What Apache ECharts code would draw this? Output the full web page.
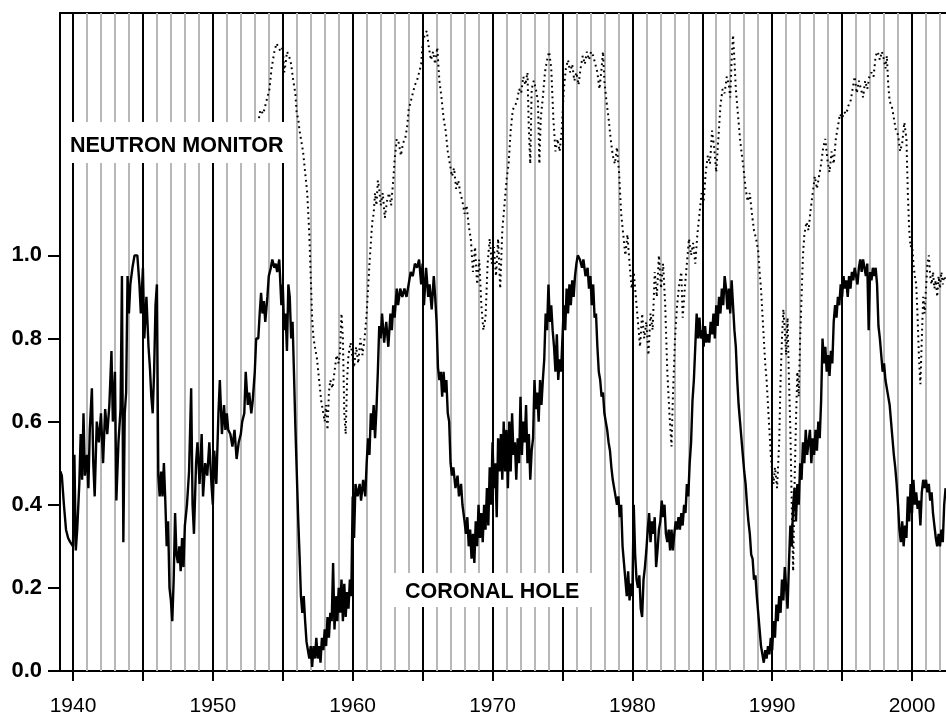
<!DOCTYPE html>
<html>
<head>
<meta charset="utf-8">
<script src="https://cdn.jsdelivr.net/npm/echarts@6/dist/echarts.min.js"></script>
<style>
html,body{margin:0;padding:0;background:#fff;}
#chart{width:946px;height:717px;}
</style>
</head>
<body>
<div id="chart"></div>
<script>
// Coronal hole index [year, value]
const coronalHole = [
[1939.1,0.48],[1939.2,0.47],[1939.35,0.40],[1939.5,0.34],[1939.65,0.32],[1939.8,0.31],[1940.0,0.30],[1940.1,0.52],[1940.2,0.29],[1940.3,0.34],[1940.45,0.45],[1940.55,0.57],[1940.65,0.46],[1940.75,0.62],[1940.85,0.47],
[1941.0,0.52],[1941.1,0.44],[1941.2,0.58],[1941.35,0.68],[1941.45,0.50],[1941.55,0.42],[1941.7,0.60],[1941.85,0.55],
[1942.0,0.62],[1942.15,0.50],[1942.3,0.63],[1942.45,0.57],[1942.6,0.64],[1942.75,0.77],[1942.85,0.60],
[1943.0,0.72],[1943.1,0.41],[1943.25,0.55],[1943.4,0.63],[1943.5,0.95],[1943.6,0.31],[1943.7,0.62],[1943.8,0.67],[1943.9,0.95],
[1944.0,0.86],[1944.1,0.93],[1944.25,0.97],[1944.4,1.0],[1944.6,1.0],[1944.75,0.93],[1944.85,0.86],
[1945.0,0.97],[1945.1,0.80],[1945.25,0.90],[1945.4,0.78],[1945.5,0.73],[1945.6,0.66],[1945.7,0.62],[1945.8,0.72],[1945.9,0.88],
[1946.0,0.93],[1946.1,0.47],[1946.2,0.42],[1946.3,0.48],[1946.4,0.42],[1946.5,0.50],[1946.6,0.41],[1946.7,0.30],[1946.8,0.36],[1946.9,0.20],
[1947.0,0.17],[1947.1,0.12],[1947.2,0.22],[1947.3,0.38],[1947.4,0.28],[1947.5,0.26],[1947.6,0.30],[1947.7,0.24],[1947.8,0.32],[1947.9,0.25],
[1948.0,0.35],[1948.15,0.40],[1948.3,0.48],[1948.45,0.68],[1948.55,0.40],[1948.65,0.33],[1948.8,0.50],[1948.9,0.55],
[1949.05,0.45],[1949.2,0.57],[1949.3,0.42],[1949.45,0.50],[1949.6,0.47],[1949.75,0.55],[1949.9,0.45],
[1950.0,0.40],[1950.1,0.53],[1950.25,0.45],[1950.4,0.62],[1950.5,0.70],[1950.65,0.57],[1950.8,0.64],[1950.9,0.58],
[1951.0,0.62],[1951.1,0.58],[1951.25,0.57],[1951.4,0.54],[1951.55,0.58],[1951.7,0.51],[1951.85,0.55],
[1952.0,0.57],[1952.1,0.60],[1952.25,0.62],[1952.35,0.72],[1952.5,0.64],[1952.6,0.67],[1952.75,0.62],[1952.85,0.65],
[1953.0,0.72],[1953.1,0.80],[1953.25,0.80],[1953.35,0.86],[1953.45,0.91],[1953.55,0.86],[1953.65,0.89],[1953.75,0.84],[1953.9,0.90],
[1954.0,0.95],[1954.15,0.97],[1954.25,0.99],[1954.4,0.97],[1954.5,0.98],[1954.6,0.96],[1954.75,0.99],[1954.9,0.88],
[1955.0,0.93],[1955.1,0.82],[1955.2,0.86],[1955.3,0.77],[1955.4,0.93],[1955.5,0.90],[1955.6,0.80],[1955.7,0.84],[1955.8,0.72],[1955.9,0.59],
[1956.0,0.48],[1956.1,0.37],[1956.2,0.28],[1956.3,0.18],[1956.4,0.14],[1956.5,0.18],[1956.6,0.12],[1956.7,0.07],[1956.8,0.05],[1956.9,0.03],
[1957.0,0.06],[1957.1,0.01],[1957.2,0.06],[1957.3,0.03],[1957.4,0.08],[1957.5,0.03],[1957.6,0.06],[1957.7,0.02],[1957.8,0.08],[1957.9,0.05],
[1958.0,0.10],[1958.1,0.06],[1958.2,0.13],[1958.3,0.08],[1958.4,0.14],[1958.5,0.12],[1958.6,0.26],[1958.7,0.10],[1958.8,0.18],[1958.9,0.12],
[1959.0,0.20],[1959.1,0.14],[1959.2,0.22],[1959.3,0.12],[1959.4,0.21],[1959.5,0.13],[1959.6,0.19],[1959.7,0.15],[1959.8,0.22],[1959.9,0.18],
[1960.0,0.42],[1960.1,0.32],[1960.2,0.45],[1960.35,0.42],[1960.5,0.45],[1960.6,0.41],[1960.75,0.46],[1960.9,0.42],
[1961.0,0.50],[1961.1,0.56],[1961.2,0.52],[1961.3,0.62],[1961.4,0.58],[1961.5,0.64],[1961.6,0.56],[1961.7,0.63],[1961.8,0.72],[1961.9,0.83],
[1962.0,0.80],[1962.1,0.86],[1962.25,0.79],[1962.4,0.84],[1962.55,0.78],[1962.7,0.86],[1962.8,0.82],[1962.9,0.88],
[1963.0,0.85],[1963.15,0.92],[1963.25,0.88],[1963.4,0.92],[1963.55,0.90],[1963.7,0.92],[1963.85,0.90],
[1964.0,0.93],[1964.15,0.96],[1964.3,0.95],[1964.45,0.98],[1964.6,0.97],[1964.75,0.99],[1964.9,0.93],
[1965.0,0.98],[1965.1,0.88],[1965.25,0.97],[1965.4,0.90],[1965.5,0.93],[1965.65,0.87],[1965.8,0.95],[1965.9,0.90],
[1966.0,0.84],[1966.1,0.73],[1966.2,0.70],[1966.3,0.72],[1966.4,0.66],[1966.5,0.72],[1966.6,0.67],[1966.7,0.70],[1966.8,0.62],[1966.9,0.60],
[1967.0,0.50],[1967.1,0.47],[1967.2,0.49],[1967.35,0.44],[1967.5,0.47],[1967.6,0.42],[1967.75,0.45],[1967.85,0.40],
[1968.0,0.36],[1968.1,0.33],[1968.2,0.37],[1968.3,0.30],[1968.4,0.34],[1968.5,0.27],[1968.6,0.33],[1968.7,0.26],[1968.8,0.36],[1968.9,0.30],
[1969.0,0.40],[1969.1,0.32],[1969.2,0.38],[1969.3,0.31],[1969.4,0.40],[1969.5,0.34],[1969.6,0.44],[1969.7,0.35],[1969.8,0.49],[1969.9,0.40],
[1970.0,0.55],[1970.1,0.44],[1970.2,0.50],[1970.3,0.37],[1970.4,0.56],[1970.5,0.48],[1970.6,0.57],[1970.7,0.46],[1970.8,0.60],[1970.9,0.48],
[1971.0,0.58],[1971.1,0.44],[1971.2,0.60],[1971.3,0.48],[1971.4,0.62],[1971.5,0.52],[1971.6,0.55],[1971.7,0.46],[1971.8,0.56],[1971.9,0.50],
[1972.0,0.66],[1972.1,0.52],[1972.2,0.60],[1972.3,0.55],[1972.4,0.64],[1972.5,0.50],[1972.6,0.57],[1972.7,0.46],[1972.8,0.53],[1972.9,0.56],
[1973.0,0.70],[1973.1,0.63],[1973.2,0.67],[1973.3,0.60],[1973.4,0.70],[1973.5,0.64],[1973.6,0.70],[1973.7,0.75],[1973.8,0.86],[1973.9,0.82],
[1974.0,0.93],[1974.1,0.84],[1974.2,0.88],[1974.3,0.82],[1974.4,0.78],[1974.5,0.72],[1974.6,0.81],[1974.7,0.70],[1974.8,0.75],[1974.9,0.72],
[1975.0,0.80],[1975.1,0.88],[1975.2,0.82],[1975.3,0.92],[1975.4,0.86],[1975.5,0.93],[1975.6,0.88],[1975.7,0.94],[1975.8,0.90],[1975.9,0.95],
[1976.0,0.98],[1976.1,1.0],[1976.25,0.99],[1976.4,0.97],[1976.5,0.99],[1976.65,0.95],[1976.8,0.97],[1976.9,0.92],
[1977.0,0.95],[1977.1,0.88],[1977.2,0.93],[1977.3,0.85],[1977.4,0.86],[1977.5,0.78],[1977.6,0.72],[1977.7,0.70],[1977.8,0.66],[1977.9,0.67],
[1978.0,0.62],[1978.1,0.60],[1978.2,0.58],[1978.3,0.55],[1978.4,0.53],[1978.5,0.49],[1978.6,0.46],[1978.7,0.44],[1978.8,0.42],[1978.9,0.40],
[1979.0,0.42],[1979.1,0.37],[1979.2,0.40],[1979.3,0.30],[1979.4,0.26],[1979.5,0.22],[1979.6,0.18],[1979.7,0.24],[1979.8,0.17],[1979.9,0.21],
[1980.0,0.18],[1980.1,0.40],[1980.2,0.28],[1980.3,0.22],[1980.4,0.20],[1980.5,0.23],[1980.6,0.15],[1980.7,0.13],[1980.8,0.22],[1980.9,0.25],
[1981.0,0.29],[1981.1,0.34],[1981.2,0.38],[1981.3,0.31],[1981.4,0.36],[1981.5,0.33],[1981.6,0.37],[1981.7,0.25],[1981.8,0.29],[1981.9,0.34],
[1982.0,0.36],[1982.1,0.41],[1982.2,0.37],[1982.3,0.40],[1982.4,0.33],[1982.5,0.31],[1982.6,0.34],[1982.7,0.29],[1982.8,0.34],[1982.9,0.29],
[1983.0,0.33],[1983.1,0.36],[1983.2,0.34],[1983.3,0.37],[1983.4,0.34],[1983.5,0.38],[1983.6,0.35],[1983.7,0.40],[1983.8,0.38],[1983.9,0.45],
[1984.0,0.42],[1984.1,0.50],[1984.2,0.55],[1984.3,0.65],[1984.4,0.70],[1984.5,0.78],[1984.6,0.86],[1984.7,0.80],[1984.8,0.85],[1984.9,0.80],
[1985.0,0.82],[1985.1,0.78],[1985.2,0.83],[1985.3,0.79],[1985.4,0.81],[1985.5,0.79],[1985.6,0.84],[1985.7,0.81],[1985.8,0.86],[1985.9,0.80],
[1986.0,0.88],[1986.1,0.83],[1986.2,0.90],[1986.3,0.86],[1986.4,0.92],[1986.5,0.88],[1986.6,0.95],[1986.7,0.92],[1986.8,0.87],[1986.9,0.92],
[1987.0,0.86],[1987.1,0.94],[1987.2,0.88],[1987.3,0.82],[1987.4,0.78],[1987.5,0.70],[1987.6,0.64],[1987.7,0.60],[1987.8,0.56],[1987.9,0.52],
[1988.0,0.48],[1988.1,0.45],[1988.2,0.40],[1988.3,0.36],[1988.4,0.33],[1988.5,0.28],[1988.6,0.27],[1988.7,0.22],[1988.8,0.23],[1988.9,0.18],
[1989.0,0.14],[1989.1,0.10],[1989.2,0.06],[1989.3,0.04],[1989.4,0.02],[1989.5,0.05],[1989.6,0.03],[1989.7,0.06],[1989.8,0.04],[1989.9,0.08],
[1990.0,0.05],[1990.1,0.12],[1990.2,0.08],[1990.3,0.16],[1990.4,0.12],[1990.5,0.18],[1990.6,0.14],[1990.7,0.22],[1990.8,0.17],[1990.9,0.25],
[1991.0,0.20],[1991.1,0.15],[1991.2,0.26],[1991.3,0.35],[1991.4,0.30],[1991.5,0.40],[1991.6,0.44],[1991.7,0.36],[1991.8,0.45],[1991.9,0.40],
[1992.0,0.50],[1992.1,0.46],[1992.2,0.55],[1992.3,0.50],[1992.4,0.58],[1992.5,0.52],[1992.6,0.52],[1992.7,0.58],[1992.8,0.50],[1992.9,0.56],
[1993.0,0.52],[1993.1,0.58],[1993.2,0.53],[1993.3,0.60],[1993.4,0.56],[1993.5,0.65],[1993.6,0.80],[1993.7,0.74],[1993.8,0.78],[1993.9,0.72],
[1994.0,0.76],[1994.1,0.71],[1994.2,0.77],[1994.3,0.74],[1994.4,0.84],[1994.5,0.88],[1994.6,0.85],[1994.7,0.90],[1994.8,0.88],[1994.9,0.93],
[1995.0,0.90],[1995.1,0.95],[1995.2,0.92],[1995.3,0.94],[1995.4,0.90],[1995.5,0.95],[1995.6,0.92],[1995.7,0.96],[1995.8,0.94],[1995.9,0.97],
[1996.0,0.95],[1996.1,0.93],[1996.2,0.97],[1996.3,0.99],[1996.4,0.96],[1996.5,0.99],[1996.6,0.97],[1996.7,0.95],[1996.8,0.98],[1996.9,0.82],
[1997.0,0.96],[1997.1,0.94],[1997.2,0.97],[1997.3,0.95],[1997.4,0.97],[1997.5,0.93],[1997.6,0.83],[1997.7,0.80],[1997.8,0.76],[1997.9,0.72],
[1998.0,0.74],[1998.1,0.70],[1998.2,0.68],[1998.3,0.66],[1998.4,0.64],[1998.5,0.60],[1998.6,0.56],[1998.7,0.52],[1998.8,0.49],[1998.9,0.45],
[1999.0,0.40],[1999.1,0.34],[1999.2,0.31],[1999.3,0.36],[1999.4,0.30],[1999.5,0.35],[1999.6,0.32],[1999.7,0.42],[1999.8,0.36],[1999.9,0.45],
[2000.0,0.38],[2000.1,0.46],[2000.2,0.40],[2000.3,0.43],[2000.4,0.39],[2000.5,0.41],[2000.6,0.35],[2000.7,0.43],[2000.8,0.46],[2000.9,0.44],
[2001.0,0.46],[2001.1,0.43],[2001.2,0.45],[2001.3,0.41],[2001.4,0.43],[2001.5,0.38],[2001.6,0.35],[2001.7,0.32],[2001.8,0.30],[2001.9,0.33],
[2002.0,0.30],[2002.1,0.34],[2002.2,0.31],[2002.3,0.40],[2002.4,0.44]
];

// Neutron monitor (normalised, plotted with offset) [year, value]
const neutronMonitor = [
[1953.3,1.33],[1953.4,1.35],[1953.6,1.34],[1953.75,1.36],[1953.9,1.38],[1954.05,1.40],[1954.2,1.45],[1954.3,1.47],[1954.4,1.49],[1954.55,1.51],[1954.7,1.50],[1954.85,1.49],
[1955.0,1.50],[1955.1,1.44],[1955.2,1.46],[1955.3,1.49],[1955.45,1.48],[1955.6,1.46],[1955.75,1.42],[1955.9,1.39],
[1956.0,1.34],[1956.1,1.33],[1956.2,1.30],[1956.3,1.28],[1956.45,1.25],[1956.6,1.20],[1956.75,1.15],[1956.9,1.05],
[1957.0,0.95],[1957.1,0.85],[1957.2,0.80],[1957.3,0.78],[1957.45,0.75],[1957.6,0.70],[1957.75,0.65],[1957.9,0.62],
[1958.0,0.60],[1958.1,0.64],[1958.2,0.58],[1958.3,0.67],[1958.4,0.70],[1958.55,0.68],[1958.7,0.72],[1958.85,0.76],
[1959.0,0.74],[1959.1,0.77],[1959.2,0.86],[1959.3,0.80],[1959.4,0.62],[1959.5,0.57],[1959.6,0.70],[1959.7,0.76],[1959.85,0.79],
[1960.0,0.75],[1960.1,0.73],[1960.25,0.78],[1960.4,0.74],[1960.55,0.80],[1960.7,0.76],[1960.85,0.80],
[1961.0,0.86],[1961.1,0.92],[1961.2,0.98],[1961.3,1.03],[1961.4,1.08],[1961.5,1.10],[1961.6,1.15],[1961.7,1.12],[1961.8,1.18],[1961.9,1.16],
[1962.0,1.12],[1962.15,1.15],[1962.3,1.09],[1962.45,1.13],[1962.6,1.15],[1962.75,1.12],[1962.9,1.18],
[1963.0,1.23],[1963.15,1.28],[1963.3,1.27],[1963.45,1.24],[1963.6,1.27],[1963.75,1.28],[1963.9,1.31],
[1964.0,1.35],[1964.15,1.37],[1964.3,1.39],[1964.45,1.41],[1964.6,1.42],[1964.75,1.44],[1964.9,1.46],
[1965.0,1.51],[1965.15,1.53],[1965.3,1.54],[1965.45,1.50],[1965.6,1.47],[1965.75,1.49],[1965.9,1.46],
[1966.05,1.50],[1966.2,1.42],[1966.35,1.38],[1966.5,1.33],[1966.65,1.30],[1966.8,1.25],[1966.95,1.22],
[1967.1,1.19],[1967.25,1.21],[1967.4,1.16],[1967.55,1.18],[1967.7,1.15],[1967.85,1.13],
[1968.0,1.10],[1968.15,1.12],[1968.3,1.07],[1968.45,1.04],[1968.6,0.96],[1968.75,1.02],[1968.9,0.93],
[1969.05,0.99],[1969.2,0.88],[1969.35,0.82],[1969.5,0.85],[1969.65,0.98],[1969.8,1.04],[1969.95,0.98],
[1970.1,1.02],[1970.25,0.95],[1970.4,1.04],[1970.55,0.92],[1970.7,1.06],[1970.85,1.12],
[1971.0,1.18],[1971.15,1.22],[1971.3,1.30],[1971.45,1.35],[1971.6,1.36],[1971.75,1.37],[1971.9,1.40],
[1972.05,1.39],[1972.2,1.43],[1972.35,1.41],[1972.5,1.44],[1972.6,1.30],[1972.7,1.22],[1972.8,1.40],[1972.95,1.42],
[1973.1,1.40],[1973.25,1.37],[1973.35,1.22],[1973.45,1.33],[1973.6,1.38],[1973.75,1.44],[1973.9,1.47],
[1974.05,1.49],[1974.2,1.45],[1974.35,1.33],[1974.5,1.25],[1974.65,1.28],[1974.8,1.25],[1974.95,1.30],
[1975.1,1.40],[1975.25,1.45],[1975.4,1.47],[1975.55,1.44],[1975.7,1.46],[1975.85,1.42],
[1976.0,1.44],[1976.15,1.41],[1976.3,1.45],[1976.45,1.48],[1976.6,1.46],[1976.75,1.49],[1976.9,1.47],
[1977.05,1.49],[1977.2,1.48],[1977.35,1.46],[1977.5,1.44],[1977.65,1.40],[1977.8,1.45],[1977.9,1.49],
[1978.0,1.42],[1978.15,1.37],[1978.3,1.33],[1978.45,1.28],[1978.6,1.24],[1978.75,1.22],[1978.9,1.26],
[1979.05,1.20],[1979.2,1.10],[1979.35,1.05],[1979.5,1.00],[1979.65,1.05],[1979.8,0.98],[1979.95,0.92],
[1980.1,0.96],[1980.25,0.90],[1980.4,0.84],[1980.55,0.78],[1980.7,0.86],[1980.85,0.80],
[1981.0,0.84],[1981.15,0.76],[1981.3,0.86],[1981.45,0.82],[1981.6,0.96],[1981.75,0.90],[1981.9,1.00],
[1982.05,0.92],[1982.2,0.98],[1982.35,0.88],[1982.5,0.72],[1982.65,0.62],[1982.8,0.54],[1982.9,0.66],
[1983.05,0.80],[1983.2,0.88],[1983.35,0.93],[1983.5,0.96],[1983.6,0.85],[1983.75,0.92],[1983.9,0.98],
[1984.05,1.04],[1984.2,1.00],[1984.35,1.03],[1984.5,0.98],[1984.65,1.05],[1984.8,1.10],[1984.95,1.15],
[1985.1,1.13],[1985.25,1.20],[1985.4,1.24],[1985.55,1.22],[1985.7,1.30],[1985.85,1.26],
[1986.0,1.20],[1986.15,1.28],[1986.3,1.36],[1986.45,1.40],[1986.6,1.39],[1986.75,1.43],[1986.9,1.41],
[1987.0,1.38],[1987.1,1.47],[1987.2,1.53],[1987.3,1.47],[1987.4,1.40],[1987.5,1.36],[1987.6,1.32],[1987.7,1.28],[1987.8,1.25],[1987.95,1.21],
[1988.1,1.16],[1988.25,1.13],[1988.4,1.15],[1988.55,1.10],[1988.7,1.06],[1988.85,1.04],
[1989.0,1.01],[1989.1,0.96],[1989.2,0.92],[1989.3,0.86],[1989.4,0.80],[1989.5,0.74],[1989.6,0.70],[1989.7,0.64],[1989.8,0.58],[1989.9,0.52],
[1990.0,0.48],[1990.1,0.45],[1990.2,0.49],[1990.35,0.44],[1990.5,0.55],[1990.6,0.70],[1990.7,0.80],[1990.8,0.87],[1990.9,0.82],
[1991.0,0.76],[1991.1,0.85],[1991.2,0.70],[1991.3,0.58],[1991.4,0.40],[1991.5,0.24],[1991.6,0.45],[1991.7,0.60],[1991.8,0.72],[1991.9,0.66],
[1992.0,0.80],[1992.1,0.90],[1992.2,1.00],[1992.3,1.05],[1992.45,1.08],[1992.6,1.06],[1992.75,1.11],[1992.9,1.15],
[1993.05,1.19],[1993.2,1.16],[1993.35,1.19],[1993.5,1.22],[1993.65,1.26],[1993.8,1.28],[1993.95,1.23],
[1994.1,1.20],[1994.25,1.25],[1994.4,1.22],[1994.55,1.28],[1994.7,1.31],[1994.85,1.34],
[1995.0,1.33],[1995.15,1.345],[1995.3,1.34],[1995.45,1.36],[1995.6,1.37],[1995.75,1.40],[1995.9,1.43],
[1996.05,1.39],[1996.2,1.42],[1996.35,1.40],[1996.5,1.38],[1996.65,1.42],[1996.8,1.40],[1996.95,1.43],
[1997.1,1.44],[1997.25,1.43],[1997.4,1.48],[1997.55,1.49],[1997.7,1.47],[1997.85,1.49],
[1998.0,1.47],[1998.1,1.45],[1998.2,1.48],[1998.3,1.41],[1998.4,1.37],[1998.55,1.36],[1998.7,1.33],[1998.85,1.30],
[1999.0,1.29],[1999.15,1.25],[1999.3,1.27],[1999.45,1.32],[1999.6,1.28],[1999.7,1.15],[1999.8,1.06],[1999.9,1.02],
[2000.0,1.03],[2000.1,0.98],[2000.2,0.95],[2000.3,0.93],[2000.4,0.85],[2000.5,0.75],[2000.6,0.69],[2000.7,0.80],[2000.8,0.90],[2000.9,0.86],
[2001.0,0.92],[2001.1,0.98],[2001.2,1.00],[2001.3,0.95],[2001.4,0.93],[2001.5,0.96],[2001.6,0.92],[2001.7,0.94],[2001.8,0.90],[2001.9,0.95],
[2002.0,0.92],[2002.1,0.96],[2002.2,0.93],[2002.3,0.95],[2002.4,0.94]
];

// Axis / grid positions
const yearLines = [1940,1941,1942,1943,1944,1945,1946,1947,1948,1949,1950,1951,1952,1953,1954,1955,1956,1957,1958,1959,1960,1961,1962,1963,1964,1965,1966,1967,1968,1969,1970,1971,1972,1973,1974,1975,1976,1977,1978,1979,1980,1981,1982,1983,1984,1985,1986,1987,1988,1989,1990,1991,1992,1993,1994,1995,1996,1997,1998,1999,2000,2001,2002];
const fiveYearLines = [1940,1945,1950,1955,1960,1965,1970,1975,1980,1985,1990,1995,2000];
const xLabelYears = [1940,1950,1960,1970,1980,1990,2000];
const yTickValues = [0,0.2,0.4,0.6,0.8,1.0];
const labelNeutron = 'NEUTRON MONITOR';
const labelCoronal = 'CORONAL HOLE';

const FONT = "'Liberation Sans', Arial, Helvetica, sans-serif";
const X_MIN = 1939.07, X_MAX = 2002.43;

const chart = echarts.init(document.getElementById('chart'), null, {renderer: 'canvas'});
const option = {
  animation: false,
  backgroundColor: '#ffffff',
  grid: {left: 60, right: 0, top: 13, bottom: 44, containLabel: false},
  xAxis: [
    {
      type: 'value', min: X_MIN, max: X_MAX, position: 'bottom',
      axisLine: {show: true, onZero: false, lineStyle: {color: '#000', width: 2}},
      axisTick: {show: true, customValues: fiveYearLines, length: 10, inside: false, lineStyle: {color: '#000', width: 2}},
      axisLabel: {show: true, customValues: xLabelYears, margin: 25, fontSize: 21, color: '#000', fontFamily: FONT,
        formatter: v => String(Math.round(v))},
      splitLine: {show: false}
    },
    {
      type: 'value', min: X_MIN, max: X_MAX, position: 'top',
      axisLine: {show: true, onZero: false, lineStyle: {color: '#000', width: 2}},
      axisTick: {show: false}, axisLabel: {show: false}, splitLine: {show: false}
    }
  ],
  yAxis: {
    type: 'value', min: 0, max: 1.583,
    axisLine: {show: true, onZero: false, lineStyle: {color: '#000', width: 2}},
    axisTick: {show: true, customValues: yTickValues, length: 12, lineStyle: {color: '#000', width: 2}},
    axisLabel: {show: true, customValues: yTickValues, margin: 18, fontSize: 22, fontWeight: 'bold', color: '#000', fontFamily: FONT,
      formatter: v => v.toFixed(1)},
    splitLine: {show: false}
  },
  series: [
    {
      type: 'line', data: [], z: 1, silent: true,
      markLine: {
        silent: true, z: 1, symbol: ['none', 'none'], animation: false,
        label: {show: false},
        lineStyle: {color: '#b8b8b8', width: 2, type: 'solid'},
        emphasis: {disabled: true},
        data: yearLines.map(y => ({xAxis: y}))
      }
    },
    {
      type: 'line', data: [], z: 1, silent: true,
      markLine: {
        silent: true, z: 2, symbol: ['none', 'none'], animation: false,
        label: {show: false},
        lineStyle: {color: '#000', width: 2, type: 'solid'},
        emphasis: {disabled: true},
        data: fiveYearLines.map(y => ({xAxis: y}))
      }
    },
    {
      name: labelNeutron, type: 'line', data: neutronMonitor, z: 5,
      showSymbol: false, symbol: 'none', silent: true,
      lineStyle: {color: '#000', width: 2, type: [1.8, 3.6]}
    },
    {
      name: labelCoronal, type: 'line', data: coronalHole, z: 6,
      showSymbol: false, symbol: 'none', silent: true,
      lineStyle: {color: '#000', width: 2.4}
    }
  ],
  graphic: [
    {type: 'rect', z: 100, shape: {x: 62, y: 122, width: 228, height: 41}, style: {fill: '#fff'}},
    {type: 'text', z: 101, x: 70, y: 146, style: {text: labelNeutron, fill: '#000', font: "bold 21.5px " + FONT, textVerticalAlign: 'middle', textAlign: 'left'}},
    {type: 'rect', z: 100, shape: {x: 393, y: 573, width: 200, height: 34}, style: {fill: '#fff'}},
    {type: 'text', z: 101, x: 405, y: 592.5, style: {text: labelCoronal, fill: '#000', font: "bold 21.5px " + FONT, textVerticalAlign: 'middle', textAlign: 'left'}}
  ]
};
chart.setOption(option);
</script>
</body>
</html>
